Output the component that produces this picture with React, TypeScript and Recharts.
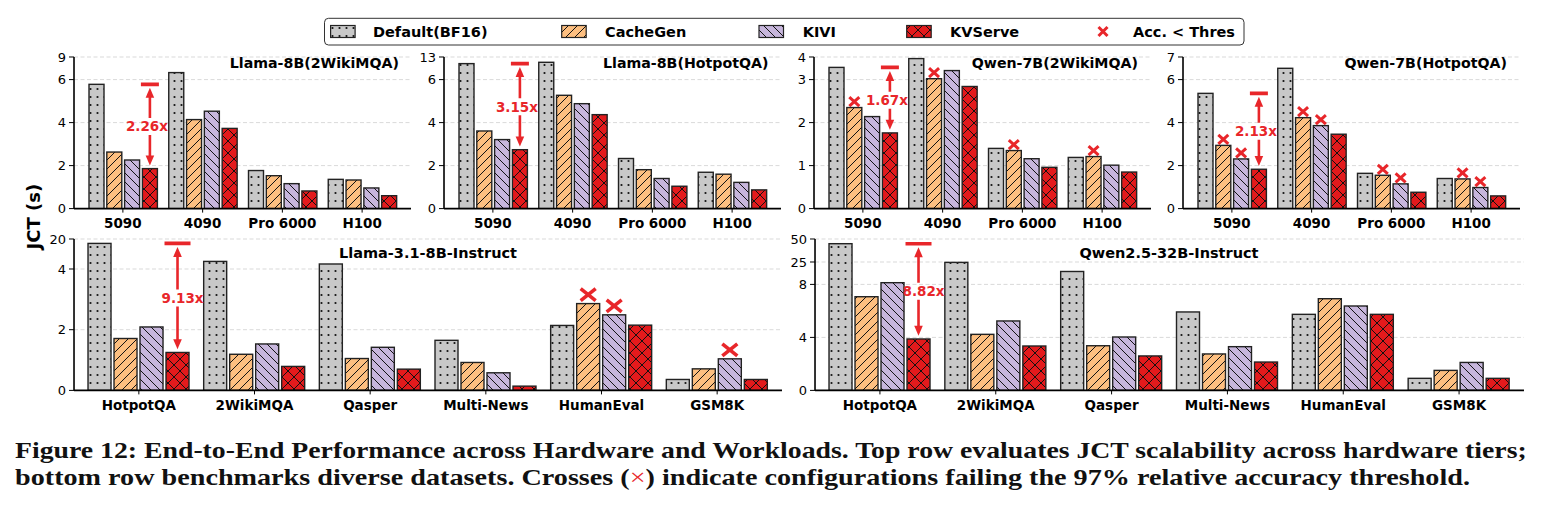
import React from 'react';
import { BarChart, Bar, XAxis, YAxis, CartesianGrid } from 'recharts';

const FONT = 'DejaVu Sans';
const RED = '#e8262a';
const EDGE = '#222';

const hardware = ['5090', '4090', 'Pro 6000', 'H100'];
const datasets = ['HotpotQA', '2WikiMQA', 'Qasper', 'Multi-News', 'HumanEval', 'GSM8K'];

// Llama-8B(2WikiMQA)
const l8wDefault = [5.78, 6.93, 1.77, 1.36];
const l8wCacheGen = [2.63, 4.14, 1.53, 1.33];
const l8wKivi = [2.26, 4.53, 1.16, 0.96];
const l8wKvserve = [1.86, 3.73, 0.82, 0.6];

// Llama-8B(HotpotQA)
const l8hDefault = [10.95, 11.36, 2.33, 1.69];
const l8hCacheGen = [3.61, 5.27, 1.81, 1.6];
const l8hKivi = [3.21, 4.88, 1.4, 1.22];
const l8hKvserve = [2.74, 4.37, 1.04, 0.87];

// Qwen-7B(2WikiMQA)
const q7wDefault = [3.54, 3.93, 1.4, 1.19];
const q7wCacheGen = [2.35, 3.04, 1.35, 1.21];
const q7wKivi = [2.14, 3.4, 1.16, 1.01];
const q7wKvserve = [1.76, 2.84, 0.96, 0.85];

// Qwen-7B(HotpotQA)
const q7hDefault = [5.36, 6.5, 1.64, 1.4];
const q7hCacheGen = [2.94, 4.23, 1.55, 1.38];
const q7hKivi = [2.31, 3.86, 1.15, 0.98];
const q7hKvserve = [1.83, 3.46, 0.76, 0.59];

// Llama-3.1-8B-Instruct
const l31Default = [17.65, 8.05, 6.67, 1.65, 2.14, 0.36];
const l31CacheGen = [1.71, 1.19, 1.05, 0.92, 2.86, 0.71];
const l31Kivi = [2.09, 1.53, 1.42, 0.58, 2.49, 1.04];
const l31Kvserve = [1.25, 0.79, 0.7, 0.14, 2.15, 0.36];

// Qwen2.5-32B-Instruct
const q32Default = [44.9, 24.7, 17.8, 5.92, 5.74, 0.91];
const q32CacheGen = [7.07, 4.23, 3.37, 2.75, 6.92, 1.51];
const q32Kivi = [9.3, 5.24, 4.03, 3.3, 6.37, 2.11];
const q32Kvserve = [3.88, 3.35, 2.6, 2.14, 5.74, 0.91];

// accuracy below threshold (crosses)
const none4 = [false, false, false, false];
const all4 = [true, true, true, true];
const l31CacheGenFail = [false, false, false, false, true, false];
const l31KiviFail = [false, false, false, false, true, true];
const none6 = [false, false, false, false, false, false];

// broken y axes: tick values and their position (px above baseline)
const topPos = [0, 43, 86, 129, 151.6];
const l8wTicks = [0, 2, 4, 6, 9];
const l8hTicks = [0, 2, 4, 6, 13];
const q7wTicks = [0, 1, 2, 3, 4];
const q7hTicks = [0, 2, 4, 6, 7];
const l31Ticks = [0, 2, 4, 20];
const l31Pos = [0, 60.7, 121.4, 151.4];
const q32Ticks = [0, 4, 8, 25, 50];
const q32Pos = [0, 53, 106, 128.4, 151.4];

const toAxis = (v: number, ticks: number[], pos: number[]) => {
  for (let i = 0; i < ticks.length - 1; i++) {
    if (v <= ticks[i + 1] || i === ticks.length - 2) {
      return pos[i] + ((v - ticks[i]) / (ticks[i + 1] - ticks[i])) * (pos[i + 1] - pos[i]);
    }
  }
  return 0;
};

type PanelProps = {
  left: number;
  top: number;
  plotW: number;
  plotH: number;
  cats: string[];
  def: number[];
  cg: number[];
  kivi: number[];
  kv: number[];
  cgFail: boolean[];
  kiviFail: boolean[];
  ticks: number[];
  pos: number[];
  speedup: string;
  pad: number;
  barSize: number;
  barGap: number;
  textDx: number;
  cross: { w: number; h: number; lift: number; sw: number };
};

const Cross = ({ cx, cy, w, h, sw }: { cx: number; cy: number; w: number; h: number; sw: number }) => (
  <g stroke={RED} strokeWidth={sw} strokeLinecap="butt">
    <line x1={cx - w / 2} y1={cy - h / 2} x2={cx + w / 2} y2={cy + h / 2} />
    <line x1={cx - w / 2} y1={cy + h / 2} x2={cx + w / 2} y2={cy - h / 2} />
  </g>
);

const Panel = (p: PanelProps) => {
  const YW = 50;
  const MT = 12;
  const XH = 30;
  const MR = 6;
  const rows = p.cats.map((name, i) => ({
    name,
    def: toAxis(p.def[i], p.ticks, p.pos),
    cg: toAxis(p.cg[i], p.ticks, p.pos),
    kivi: toAxis(p.kivi[i], p.ticks, p.pos),
    kv: toAxis(p.kv[i], p.ticks, p.pos),
  }));
  const labelOf = (v: number) => {
    const i = p.pos.findIndex((q) => Math.abs(q - v) < 0.01);
    return i >= 0 ? String(p.ticks[i]) : '';
  };

  const shape = (key: 'def' | 'cg' | 'kivi' | 'kv', fails?: boolean[]) => (props: any) => {
    const { x, y, width, height, index, fill, payload } = props;
    const cx = x + width / 2;
    const parts: React.ReactNode[] = [
      <rect key="r" x={x} y={y} width={width} height={height} fill={fill} stroke={EDGE} strokeWidth={1.4} />,
    ];
    if (fails && fails[index]) {
      parts.push(<Cross key="c" cx={cx} cy={y - p.cross.lift} w={p.cross.w} h={p.cross.h} sw={p.cross.sw} />);
    }
    if (key === 'kv' && index === 0 && payload) {
      const base = y + height;
      const k = height / payload.kv;
      const topY = base - payload.def * k;
      const mid = (topY + y) / 2;
      const hl = 10;
      const hw = 4.3;
      const t1 = topY + 3.5;
      const t2 = y - 3.2;
      parts.push(
        <g key="a">
          <line x1={x - 1.5} x2={x + width + 1.5} y1={topY} y2={topY} stroke={RED} strokeWidth={3.6} />
          <line x1={cx} x2={cx} y1={t1 + hl - 1} y2={mid - 8.5} stroke={RED} strokeWidth={2.6} />
          <polygon points={`${cx},${t1} ${cx - hw},${t1 + hl} ${cx + hw},${t1 + hl}`} fill={RED} />
          <line x1={cx} x2={cx} y1={mid + 8.5} y2={t2 - hl + 1} stroke={RED} strokeWidth={2.6} />
          <polygon points={`${cx},${t2} ${cx - hw},${t2 - hl} ${cx + hw},${t2 - hl}`} fill={RED} />
          <text
            x={cx + p.textDx}
            y={mid}
            dominantBaseline="central"
            textAnchor="middle"
            fill={RED}
            fontFamily={FONT}
            fontWeight="bold"
            fontSize={13.5}
          >
            {p.speedup}
          </text>
        </g>
      );
    }
    return <g>{parts}</g>;
  };

  return (
    <div style={{ position: 'absolute', left: p.left - YW, top: p.top - MT }}>
      <BarChart
        width={p.plotW + YW + MR}
        height={p.plotH + MT + XH}
        data={rows}
        margin={{ top: MT, right: MR, left: 0, bottom: 0 }}
        barSize={p.barSize}
        barGap={p.barGap}
      >
        <CartesianGrid vertical={false} stroke="#cfcfcf" strokeDasharray="4 2.5" strokeWidth={0.8} />
        <XAxis
          dataKey="name"
          interval={0}
          height={XH}
          padding={{ left: p.pad, right: p.pad }}
          tickSize={4}
          tickMargin={6}
          axisLine={{ stroke: '#000', strokeWidth: 1.6 }}
          tickLine={{ stroke: '#000', strokeWidth: 1 }}
          tick={{ fill: '#000', fontSize: 13.5, fontWeight: 'bold', fontFamily: FONT }}
        />
        <YAxis
          type="number"
          width={YW}
          domain={[0, p.pos[p.pos.length - 1]]}
          ticks={p.pos}
          interval={0}
          allowDataOverflow
          tickFormatter={labelOf}
          tickSize={5}
          tickMargin={3}
          axisLine={{ stroke: '#000', strokeWidth: 1.6 }}
          tickLine={{ stroke: '#000', strokeWidth: 1 }}
          tick={{ fill: '#000', fontSize: 13, fontFamily: FONT }}
        />
        <Bar dataKey="def" fill="url(#hDots)" isAnimationActive={false} shape={shape('def')} />
        <Bar dataKey="cg" fill="url(#hSlash)" isAnimationActive={false} shape={shape('cg', p.cgFail)} />
        <Bar dataKey="kivi" fill="url(#hBack)" isAnimationActive={false} shape={shape('kivi', p.kiviFail)} />
        <Bar dataKey="kv" fill="url(#hCross)" isAnimationActive={false} shape={shape('kv')} />
      </BarChart>
    </div>
  );
};

const topCross = { w: 10, h: 9, lift: 6, sw: 3 };
const botCross = { w: 15, h: 12, lift: 9, sw: 3.6 };
const topBase = { top: 56.7, plotW: 337, plotH: 151.6, cats: hardware, pad: 9, barSize: 15, barGap: 2.8, textDx: -3, cross: topCross, pos: topPos };
const botBase = { top: 239.3, plotH: 151.4, cats: datasets, pad: 7, barSize: 23, barGap: 3, textDx: 5, cross: botCross };

const legendItems = [
  { label: 'Default(BF16)', fill: 'url(#hDots)', sx: 330.6, tx: 373 },
  { label: 'CacheGen', fill: 'url(#hSlash)', sx: 561.7, tx: 605 },
  { label: 'KIVI', fill: 'url(#hBack)', sx: 759, tx: 802.7 },
  { label: 'KVServe', fill: 'url(#hCross)', sx: 906.7, tx: 950 },
];

const Patterns = () => (
  <svg width={0} height={0} style={{ position: 'absolute' }}>
    <defs>
      <pattern id="hDots" patternUnits="userSpaceOnUse" width={7} height={8}>
        <rect width={7} height={8} fill="#c8c8c8" />
        <circle cx={3.5} cy={4} r={1.1} fill="#111" />
      </pattern>
      <pattern id="hSlash" patternUnits="userSpaceOnUse" width={9} height={9}>
        <rect width={9} height={9} fill="#fdbf80" />
        <path d="M-1,1 L1,-1 M0,9 L9,0 M8,10 L10,8" stroke="#111" strokeWidth={1} />
      </pattern>
      <pattern id="hBack" patternUnits="userSpaceOnUse" width={9} height={9}>
        <rect width={9} height={9} fill="#c7b6dc" />
        <path d="M-1,8 L1,10 M0,0 L9,9 M8,-1 L10,1" stroke="#111" strokeWidth={1} />
      </pattern>
      <pattern id="hCross" patternUnits="userSpaceOnUse" width={12} height={12}>
        <rect width={12} height={12} fill="#e31a1c" />
        <path d="M0,0 L12,12 M0,12 L12,0 M-1,1 L1,-1 M11,13 L13,11 M-1,11 L1,13 M11,-1 L13,1" stroke="#111" strokeWidth={1} />
      </pattern>
    </defs>
  </svg>
);

export default function App() {
  return (
    <div style={{ position: 'absolute', left: 0, top: 0, width: 1546, height: 511, background: '#fff', overflow: 'hidden' }}>
      <Patterns />
      <Panel {...topBase} left={74} def={l8wDefault} cg={l8wCacheGen} kivi={l8wKivi} kv={l8wKvserve} cgFail={none4} kiviFail={none4} ticks={l8wTicks} speedup="2.26x" />
      <Panel {...topBase} left={444.3} def={l8hDefault} cg={l8hCacheGen} kivi={l8hKivi} kv={l8hKvserve} cgFail={none4} kiviFail={none4} ticks={l8hTicks} speedup="3.15x" />
      <Panel {...topBase} left={814.3} def={q7wDefault} cg={q7wCacheGen} kivi={q7wKivi} kv={q7wKvserve} cgFail={all4} kiviFail={none4} ticks={q7wTicks} speedup="1.67x" />
      <Panel {...topBase} left={1183.3} def={q7hDefault} cg={q7hCacheGen} kivi={q7hKivi} kv={q7hKvserve} cgFail={all4} kiviFail={all4} ticks={q7hTicks} speedup="2.13x" />
      <Panel {...botBase} left={74} plotW={708} def={l31Default} cg={l31CacheGen} kivi={l31Kivi} kv={l31Kvserve} cgFail={l31CacheGenFail} kiviFail={l31KiviFail} ticks={l31Ticks} pos={l31Pos} speedup="9.13x" />
      <Panel {...botBase} left={815} plotW={709} def={q32Default} cg={q32CacheGen} kivi={q32Kivi} kv={q32Kvserve} cgFail={none6} kiviFail={none6} ticks={q32Ticks} pos={q32Pos} speedup="8.82x" />

      <svg width={1546} height={511} style={{ position: 'absolute', left: 0, top: 0, pointerEvents: 'none' }}>
        <g fontFamily={FONT} fontWeight="bold" fill="#000">
          <text x={399} y={67.5} textAnchor="end" fontSize={14.2}>Llama-8B(2WikiMQA)</text>
          <text x={768.5} y={67.5} textAnchor="end" fontSize={14.2}>Llama-8B(HotpotQA)</text>
          <text x={1138} y={67.5} textAnchor="end" fontSize={14.2}>Qwen-7B(2WikiMQA)</text>
          <text x={1507} y={67.5} textAnchor="end" fontSize={14.2}>Qwen-7B(HotpotQA)</text>
          <text x={428} y={258} textAnchor="middle" fontSize={14.5}>Llama-3.1-8B-Instruct</text>
          <text x={1169} y={258} textAnchor="middle" fontSize={14.5}>Qwen2.5-32B-Instruct</text>
          <text x={33.5} y={216.7} textAnchor="middle" dominantBaseline="central" fontSize={18} transform="rotate(-90 33.5 216.7)">JCT (s)</text>
        </g>

        <rect x={324.5} y={18.3} width={919.5} height={26.7} rx={4} fill="#fff" stroke="#333" strokeWidth={1} />
        {legendItems.map((it) => (
          <g key={it.label}>
            <rect x={it.sx} y={25.5} width={24.5} height={12} fill={it.fill} stroke={EDGE} strokeWidth={1.2} />
            <text x={it.tx} y={36.5} fontFamily={FONT} fontWeight="bold" fontSize={14.5} fill="#000">{it.label}</text>
          </g>
        ))}
        <Cross cx={1103} cy={31.5} w={9} h={9} sw={3} />
        <text x={1133} y={36.5} fontFamily={FONT} fontWeight="bold" fontSize={14.5} fill="#000">Acc. &lt; Thres</text>

        <g fontFamily="Liberation Serif" fontWeight="bold" fontSize={23} fill="#111">
          <text x={15} y={458.3} textLength={1511.7} lengthAdjust="spacingAndGlyphs">
            Figure 12: End-to-End Performance across Hardware and Workloads. Top row evaluates JCT scalability across hardware tiers;
          </text>
          <text x={15} y={485} textLength={1455} lengthAdjust="spacingAndGlyphs">
            bottom row benchmarks diverse datasets. Crosses (<tspan fill={RED} fontWeight="normal">×</tspan>) indicate configurations failing the 97% relative accuracy threshold.
          </text>
        </g>
      </svg>
    </div>
  );
}
